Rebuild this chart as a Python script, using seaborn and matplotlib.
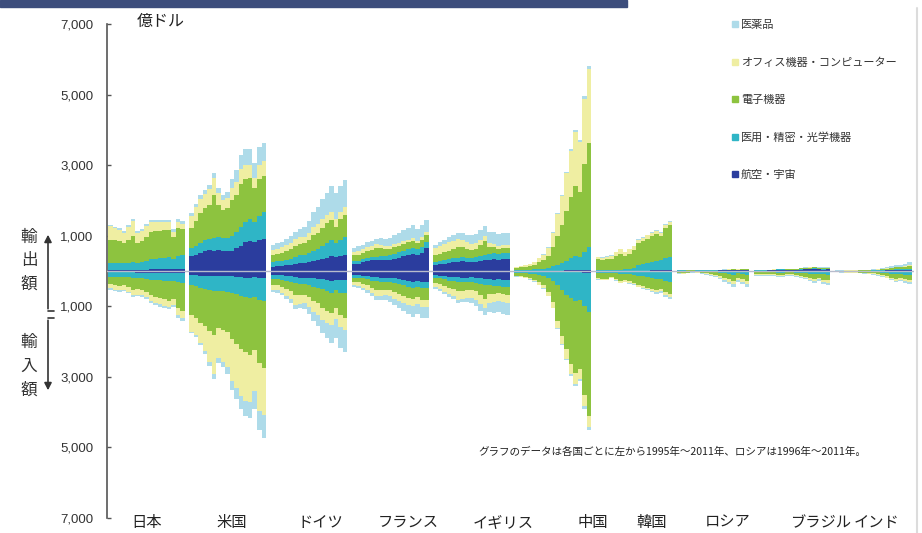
import numpy as np
import matplotlib.pyplot as plt
from matplotlib.lines import Line2D
from matplotlib.patches import Rectangle
import seaborn as sns

sns.set_theme(style="white")
plt.rcParams['font.family'] = ['Noto Sans CJK JP', 'DejaVu Sans']

# 国（ロシアは1996年～2011年、ほかは1995年～2011年）
countries = ['日本', '米国', 'ドイツ', 'フランス', 'イギリス', '中国', '韓国', 'ロシア', 'ブラジル', 'インド']
label_shift = [0, 1, 2.6, 4, 7, 8.8, 4, 3.3, 6.4, 0.7]

# 積み上げ順（ゼロから外側へ）
stack_names = ['航空・宇宙', '医用・精密・光学機器', '電子機器', 'オフィス機器・コンピューター', '医薬品']
stack_colors = ['#2b3d9e', '#2fb5c6', '#8dc33f', '#efeea2', '#aedbe9']

y_ticks = [-7000, -5000, -3000, -1000, 1000, 3000, 5000, 7000]

# 輸出額（億ドル）
exp_aero = [
    [40, 40, 40, 40, 40, 40, 40, 40, 40, 45, 50, 55, 55, 60, 50, 55, 60],
    [420, 460, 520, 580, 600, 580, 600, 580, 560, 580, 640, 720, 820, 860, 820, 880, 920],
    [120, 130, 140, 160, 180, 200, 230, 240, 250, 270, 300, 340, 380, 420, 400, 420, 450],
    [200, 210, 250, 280, 300, 300, 320, 320, 320, 340, 380, 420, 450, 480, 450, 520, 650],
    [180, 190, 210, 240, 250, 250, 270, 260, 250, 260, 280, 300, 320, 330, 320, 330, 340],
    [5, 5, 5, 5, 5, 5, 10, 10, 10, 10, 10, 15, 15, 20, 20, 25, 30],
    [10, 10, 10, 10, 10, 10, 10, 10, 10, 10, 10, 10, 15, 15, 15, 15, 15],
    [10, 10, 8, 8, 10, 12, 12, 12, 14, 15, 16, 18, 20, 18, 20, 22],
    [10, 10, 12, 15, 20, 35, 35, 30, 25, 30, 40, 45, 50, 55, 45, 40, 45],
    [2, 2, 3, 3, 3, 4, 5, 6, 8, 10, 12, 15, 20, 25, 25, 30, 35],
]
exp_optic = [
    [200, 200, 190, 180, 190, 220, 200, 210, 250, 290, 300, 310, 320, 340, 300, 380, 400],
    [230, 250, 280, 300, 320, 360, 360, 350, 370, 420, 460, 520, 560, 600, 560, 680, 740],
    [130, 140, 150, 160, 170, 190, 210, 220, 260, 300, 320, 360, 420, 460, 400, 460, 510],
    [80, 85, 90, 95, 100, 110, 110, 110, 120, 140, 150, 160, 170, 180, 160, 170, 170],
    [80, 90, 100, 110, 110, 120, 120, 120, 130, 140, 150, 160, 170, 170, 160, 170, 170],
    [20, 25, 30, 35, 40, 50, 60, 80, 120, 170, 220, 280, 340, 400, 380, 520, 650],
    [20, 20, 20, 20, 25, 30, 40, 50, 80, 150, 200, 230, 250, 280, 300, 350, 370],
    [5, 5, 4, 4, 5, 6, 6, 6, 7, 8, 9, 10, 11, 10, 11, 12],
    [5, 5, 6, 7, 8, 10, 10, 9, 10, 12, 14, 15, 17, 20, 18, 20, 22],
    [3, 3, 4, 4, 4, 5, 6, 7, 8, 10, 13, 17, 20, 25, 27, 30, 35],
]
exp_elec = [
    [650, 640, 620, 560, 640, 720, 560, 600, 680, 760, 780, 780, 780, 760, 600, 780, 740],
    [570, 720, 850, 900, 960, 1200, 920, 800, 860, 1000, 1060, 1220, 1220, 1180, 960, 1060, 1040],
    [200, 210, 230, 240, 260, 320, 320, 330, 380, 450, 470, 530, 560, 560, 460, 580, 630],
    [160, 170, 180, 190, 200, 230, 220, 200, 190, 200, 190, 190, 190, 200, 180, 190, 200],
    [180, 200, 220, 230, 250, 300, 280, 240, 220, 230, 300, 380, 200, 170, 140, 140, 140],
    [60, 70, 85, 100, 125, 190, 240, 340, 550, 820, 1070, 1400, 1730, 2000, 1850, 2500, 2950],
    [300, 280, 300, 320, 380, 450, 380, 430, 500, 620, 630, 680, 720, 740, 680, 850, 930],
    [6, 6, 5, 5, 6, 7, 7, 8, 9, 10, 11, 12, 14, 12, 13, 14],
    [8, 8, 9, 10, 13, 15, 15, 12, 13, 15, 22, 25, 27, 28, 22, 22, 23],
    [5, 5, 6, 6, 6, 7, 8, 9, 12, 16, 22, 30, 40, 50, 55, 65, 80],
]
exp_office = [
    [380, 340, 320, 300, 380, 450, 280, 280, 300, 300, 260, 240, 230, 220, 160, 170, 140],
    [340, 380, 400, 410, 430, 500, 330, 280, 290, 340, 360, 420, 400, 360, 300, 380, 410],
    [150, 150, 160, 170, 180, 200, 190, 180, 200, 220, 230, 240, 220, 230, 200, 220, 220],
    [100, 110, 110, 110, 110, 120, 100, 90, 80, 80, 80, 80, 80, 80, 70, 80, 80],
    [200, 220, 230, 240, 240, 250, 220, 190, 170, 160, 160, 150, 110, 100, 90, 90, 90],
    [30, 35, 45, 55, 75, 115, 150, 235, 400, 620, 820, 1070, 1320, 1520, 1400, 1840, 2100],
    [60, 70, 80, 80, 110, 130, 100, 120, 110, 110, 100, 90, 90, 90, 80, 80, 80],
    [3, 3, 2, 2, 3, 3, 3, 3, 4, 4, 4, 5, 5, 4, 5, 5],
    [4, 4, 4, 4, 4, 5, 5, 4, 5, 5, 6, 6, 6, 6, 5, 6, 6],
    [2, 2, 3, 3, 3, 4, 4, 5, 6, 8, 10, 13, 15, 18, 18, 20, 22],
]
exp_pharma = [
    [40, 40, 40, 40, 40, 50, 50, 50, 50, 60, 60, 60, 60, 70, 70, 80, 80],
    [80, 90, 100, 110, 130, 140, 140, 140, 170, 260, 330, 420, 450, 450, 420, 500, 510],
    [140, 150, 150, 170, 190, 200, 240, 280, 340, 430, 480, 560, 640, 740, 740, 740, 770],
    [110, 120, 120, 140, 150, 160, 180, 200, 230, 260, 280, 300, 330, 360, 340, 340, 340],
    [100, 110, 120, 140, 160, 170, 190, 220, 240, 260, 270, 280, 310, 330, 330, 340, 340],
    [5, 5, 5, 5, 5, 10, 10, 15, 20, 30, 30, 35, 45, 60, 50, 65, 70],
    [10, 10, 10, 10, 10, 10, 10, 10, 10, 15, 15, 20, 20, 25, 25, 25, 25],
    [2, 2, 2, 2, 2, 2, 2, 2, 3, 3, 3, 3, 4, 4, 4, 4],
    [3, 3, 4, 4, 5, 5, 5, 5, 7, 8, 8, 9, 10, 11, 10, 12, 14],
    [3, 3, 4, 4, 4, 5, 7, 8, 11, 16, 23, 35, 45, 52, 55, 65, 78],
]

# 輸入額（億ドル）
imp_aero = [
    [40, 40, 40, 40, 40, 40, 50, 50, 50, 50, 50, 50, 60, 60, 60, 60, 70],
    [100, 110, 130, 150, 150, 150, 150, 140, 140, 150, 160, 170, 190, 200, 180, 190, 200],
    [100, 100, 110, 130, 150, 170, 190, 190, 200, 210, 230, 240, 260, 280, 250, 260, 250],
    [120, 120, 130, 150, 170, 180, 200, 200, 190, 200, 230, 250, 280, 300, 280, 300, 310],
    [120, 130, 150, 170, 180, 180, 200, 190, 180, 190, 210, 230, 240, 250, 240, 250, 250],
    [10, 10, 10, 15, 15, 15, 20, 20, 25, 25, 30, 30, 35, 40, 40, 50, 60],
    [20, 20, 20, 20, 20, 25, 25, 25, 25, 30, 30, 30, 30, 30, 30, 30, 30],
    [8, 9, 7, 5, 6, 8, 10, 12, 15, 20, 25, 30, 35, 25, 30, 35],
    [15, 15, 15, 15, 15, 20, 20, 15, 15, 20, 25, 25, 30, 35, 30, 35, 40],
    [5, 5, 6, 6, 7, 8, 8, 8, 10, 15, 20, 25, 35, 40, 35, 40, 40],
]
imp_optic = [
    [130, 140, 140, 130, 140, 160, 160, 160, 180, 200, 210, 210, 220, 230, 220, 260, 280],
    [300, 310, 340, 370, 400, 420, 420, 430, 450, 480, 500, 530, 550, 570, 560, 620, 650],
    [130, 130, 140, 150, 160, 180, 190, 190, 210, 240, 250, 280, 310, 330, 300, 350, 370],
    [70, 70, 80, 90, 100, 110, 110, 110, 120, 130, 140, 150, 160, 170, 160, 170, 170],
    [70, 80, 90, 100, 110, 120, 120, 120, 130, 140, 150, 160, 170, 180, 180, 190, 200],
    [40, 45, 50, 60, 70, 90, 120, 170, 260, 380, 520, 640, 740, 800, 780, 950, 1100],
    [50, 50, 50, 40, 50, 60, 60, 70, 80, 100, 120, 150, 180, 200, 190, 250, 280],
    [12, 13, 10, 8, 9, 12, 15, 20, 25, 35, 45, 55, 65, 45, 55, 65],
    [20, 22, 24, 24, 22, 25, 24, 20, 20, 25, 30, 35, 45, 55, 45, 55, 60],
    [8, 9, 10, 11, 12, 14, 15, 16, 20, 25, 32, 40, 48, 55, 52, 60, 65],
]
imp_elec = [
    [200, 220, 240, 230, 270, 330, 300, 320, 360, 420, 470, 500, 520, 550, 520, 720, 780],
    [850, 900, 1000, 1050, 1150, 1240, 1050, 1100, 1150, 1300, 1400, 1500, 1550, 1600, 1500, 1800, 1900],
    [170, 180, 200, 220, 260, 320, 290, 290, 330, 400, 440, 520, 560, 580, 500, 650, 710],
    [120, 130, 150, 170, 200, 250, 230, 220, 240, 270, 290, 310, 320, 330, 300, 340, 340],
    [140, 160, 180, 200, 220, 270, 250, 240, 230, 250, 320, 400, 250, 230, 210, 220, 230],
    [80, 90, 110, 130, 160, 220, 270, 400, 600, 1000, 1300, 1550, 1850, 2050, 1950, 2500, 2950],
    [140, 150, 150, 110, 160, 210, 180, 200, 230, 270, 280, 290, 300, 300, 280, 320, 330],
    [30, 34, 27, 19, 23, 30, 38, 50, 65, 88, 115, 150, 175, 115, 148, 175],
    [50, 55, 60, 58, 55, 70, 65, 52, 52, 70, 85, 100, 125, 150, 120, 155, 165],
    [15, 17, 19, 21, 23, 27, 29, 31, 40, 52, 70, 87, 107, 125, 117, 140, 155],
]
imp_office = [
    [120, 130, 130, 130, 140, 160, 160, 150, 160, 180, 180, 180, 180, 170, 150, 200, 200],
    [480, 500, 580, 700, 880, 1120, 850, 900, 990, 1200, 1260, 1350, 1390, 1330, 1160, 1350, 1330],
    [130, 140, 170, 200, 230, 290, 260, 250, 280, 320, 330, 340, 330, 330, 310, 340, 340],
    [90, 100, 110, 130, 150, 180, 170, 160, 170, 190, 200, 200, 200, 200, 190, 200, 200],
    [130, 150, 170, 190, 210, 240, 220, 210, 220, 240, 250, 250, 240, 230, 220, 230, 230],
    [20, 25, 30, 35, 45, 60, 80, 110, 150, 200, 230, 270, 300, 300, 300, 330, 300],
    [30, 30, 30, 20, 30, 40, 40, 40, 40, 40, 50, 50, 50, 60, 60, 80, 90],
    [15, 17, 13, 9, 11, 15, 19, 24, 32, 43, 57, 70, 85, 57, 72, 85],
    [20, 22, 25, 25, 22, 25, 22, 18, 18, 25, 30, 35, 45, 55, 45, 60, 65],
    [8, 9, 10, 11, 12, 14, 15, 17, 20, 25, 32, 38, 45, 50, 48, 55, 60],
]
imp_pharma = [
    [40, 40, 40, 40, 40, 40, 40, 50, 50, 60, 60, 70, 70, 80, 80, 90, 100],
    [40, 50, 60, 80, 100, 120, 130, 150, 190, 250, 300, 370, 440, 480, 500, 560, 650],
    [60, 60, 70, 80, 100, 110, 130, 150, 200, 260, 300, 380, 450, 520, 550, 580, 620],
    [50, 50, 60, 70, 80, 90, 100, 120, 150, 180, 200, 230, 260, 290, 300, 310, 310],
    [40, 50, 60, 70, 80, 90, 100, 120, 150, 170, 190, 220, 260, 290, 310, 330, 340],
    [10, 10, 10, 10, 10, 15, 15, 20, 25, 25, 30, 40, 45, 60, 60, 70, 100],
    [10, 10, 10, 10, 10, 15, 15, 20, 20, 25, 30, 30, 40, 50, 50, 60, 70],
    [15, 17, 13, 9, 11, 15, 18, 24, 33, 44, 58, 75, 90, 58, 75, 90],
    [25, 26, 26, 28, 26, 30, 29, 25, 25, 30, 30, 35, 45, 55, 40, 55, 60],
    [4, 5, 5, 6, 6, 7, 8, 8, 10, 13, 16, 20, 25, 30, 28, 35, 40],
]

exp_layers = [exp_aero, exp_optic, exp_elec, exp_office, exp_pharma]
imp_layers = [imp_aero, imp_optic, imp_elec, imp_office, imp_pharma]

W, H = 922, 533


def fx(px):
    return px / W


def fy(py):
    return 1 - py / H


fig = plt.figure(figsize=(W / 100, H / 100), dpi=100)
ax = fig.add_axes([fx(107), fy(518), fx(914) - fx(107), fy(24) - fy(518)])

start = 0
label_pos = []
for ci, name in enumerate(countries):
    n = len(exp_aero[ci])
    x = start + np.arange(n) + 0.5
    up = np.zeros(n)
    down = np.zeros(n)
    for k in range(len(stack_names)):
        e = np.array(exp_layers[k][ci], dtype=float)
        m = np.array(imp_layers[k][ci], dtype=float)
        ax.bar(x, e, width=1.0, bottom=up, color=stack_colors[k], linewidth=0)
        ax.bar(x, -m, width=1.0, bottom=-down, color=stack_colors[k], linewidth=0)
        up += e
        down += m
    label_pos.append(start + n / 2 + label_shift[ci])
    start += n + 1

ax.axhline(0, color='#b8bccc', lw=1.0, zorder=5)

ax.set_xlim(-0.22, start - 1 + 0.5)
ax.set_ylim(-7000, 7000)
ax.set_yticks(y_ticks)
ax.set_yticklabels([f"{abs(v):,}" for v in y_ticks], fontsize=9.5, color='#333333',
                   fontfamily='Liberation Sans')
ax.tick_params(axis='y', direction='in', length=3, width=1, color='#555555', pad=10, left=True)
ax.set_xticks(label_pos)
ax.set_xticklabels(countries, fontsize=11, color='#222222')
ax.tick_params(axis='x', length=0, pad=-3)
ax.grid(False)
sns.despine(ax=ax, top=True, right=True, bottom=True)
ax.spines['left'].set_color('#555555')
ax.spines['left'].set_linewidth(1.2)

fig.text(fx(137), fy(21), '億ドル', fontsize=11.5, color='#222222', va='center', ha='left')

# 凡例（外側の層から順に）
handles = [Line2D([], [], marker='s', linestyle='', markersize=4, color=c)
           for c in stack_colors[::-1]]
leg = ax.legend(handles, stack_names[::-1], loc='upper left', bbox_to_anchor=(fx(731), fy(20)),
                bbox_transform=fig.transFigure, frameon=False, fontsize=8, labelspacing=2.45,
                handlelength=0.8, handletextpad=0.1, borderpad=0, borderaxespad=0)
for t in leg.get_texts():
    t.set_color('#333333')

fig.text(fx(478), fy(452), 'グラフのデータは各国ごとに左から1995年～2011年、ロシアは1996年～2011年。',
         fontsize=7.6, color='#222222', va='center', ha='left')

# 左側の「輸出額」「輸入額」
for ch, py in zip('輸出額', [237, 261, 284]):
    fig.text(fx(29), fy(py), ch, fontsize=12, color='#333333', ha='center', va='center')
for ch, py in zip('輸入額', [342, 366, 390]):
    fig.text(fx(29), fy(py), ch, fontsize=12, color='#333333', ha='center', va='center')

arrow_kw = dict(arrowstyle='-|>,head_length=0.35,head_width=0.18', color='#333333', lw=1.2)
fig.add_artist(plt.Line2D([fx(48), fx(54)], [fy(311), fy(311)], color='#333333', lw=1.2))
fig.add_artist(plt.Line2D([fx(48), fx(54)], [fy(318), fy(318)], color='#333333', lw=1.2))
ax.annotate('', xy=(fx(48), fy(232)), xytext=(fx(48), fy(311.5)),
            xycoords='figure fraction', textcoords='figure fraction', arrowprops=arrow_kw,
            annotation_clip=False)
ax.annotate('', xy=(fx(48), fy(393)), xytext=(fx(48), fy(317.5)),
            xycoords='figure fraction', textcoords='figure fraction', arrowprops=arrow_kw,
            annotation_clip=False)

# 上部の帯と右端の枠線
fig.patches.append(Rectangle((0, fy(7)), fx(627), 7 / H, transform=fig.transFigure,
                             color='#3c4d7c', zorder=10))
fig.add_artist(plt.Line2D([fx(917), fx(917)], [0, fy(8)], color='#dcdcdc', lw=1.5))

fig.savefig('out.png', dpi=100)
